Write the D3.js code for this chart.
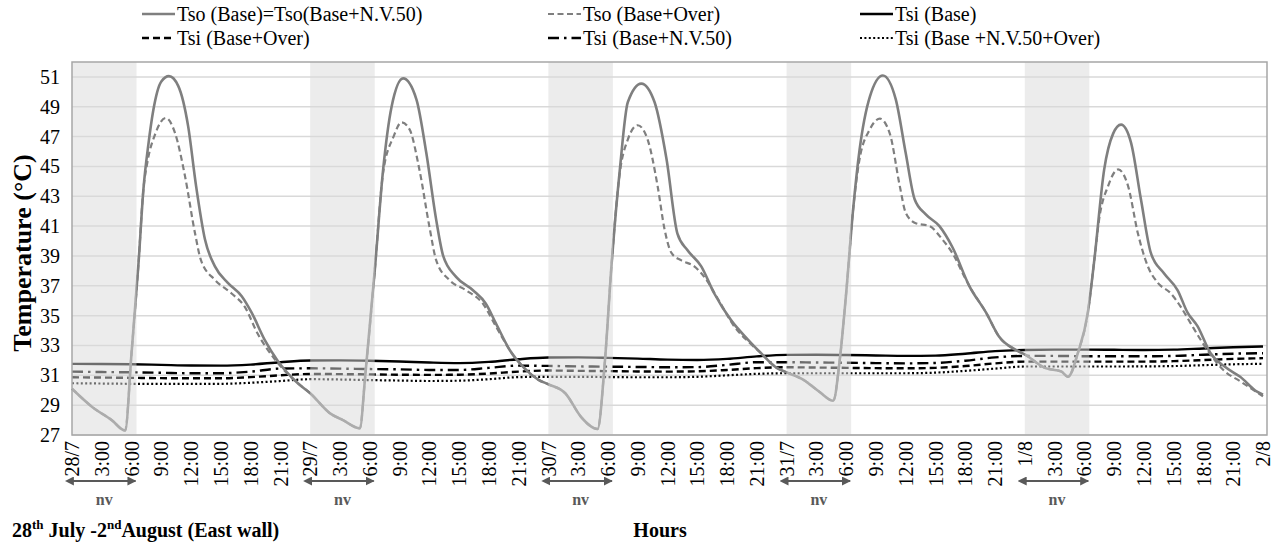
<!DOCTYPE html>
<html><head><meta charset="utf-8">
<script src="https://cdn.jsdelivr.net/npm/d3@7"></script>
<style>
html,body{margin:0;padding:0;background:#fff;}
</style></head>
<body><svg id="c" width="1276" height="543" font-family="Liberation Serif"></svg>
<script>
// ---------- data ----------
const xTickHours = [0,3,6,9,12,15,18,21,24,27,30,33,36,39,42,45,48,51,54,57,60,63,66,69,72,75,78,81,84,87,90,93,96,99,102,105,108,111,114,117,120];
const xTickLabels = ["28/7","3:00","6:00","9:00","12:00","15:00","18:00","21:00",
  "29/7","3:00","6:00","9:00","12:00","15:00","18:00","21:00",
  "30/7","3:00","6:00","9:00","12:00","15:00","18:00","21:00",
  "31/7","3:00","6:00","9:00","12:00","15:00","18:00","21:00",
  "1/8","3:00","6:00","9:00","12:00","15:00","18:00","21:00","2/8"];
const yTicks = [27,29,31,33,35,37,39,41,43,45,47,49,51];
const nvStarts = [0,24,48,72,96];
const nvLength = 6.5;

// Tso (Base) = Tso (Base+N.V.50): [hour, °C]
const tsoBase = [
 [0,30.1],[2.0,28.9],[4.0,28.0],[5.35,27.3],[6.0,32.5],[6.7,38.5],[7.2,43.5],[7.7,46.5],[8.2,48.8],[9.0,50.7],[9.77,51.05],[10.7,50.4],[11.7,47.7],[12.5,43.7],[13.4,40.1],[14.4,38.3],[15.7,37.2],[17.1,36.3],[18.1,35.2],[19.4,33.4],[20.7,32.0],[22.7,30.5],
 [24,29.8],[26.0,28.45],[27.3,28.0],[29.0,27.45],[29.55,31.0],[30.5,38.0],[31.35,44.8],[32.2,49.0],[33.36,50.9],[34.7,49.5],[35.7,45.9],[36.7,41.4],[37.4,39.0],[38.7,37.6],[40.4,36.7],[41.7,35.8],[42.7,34.5],[44.1,32.7],[45.7,31.4],[47.0,30.7],
 [48,30.4],[49.7,29.8],[51.3,28.2],[52.95,27.4],[53.7,32.0],[54.35,38.3],[55.2,44.8],[56.0,49.3],[57.36,50.55],[58.7,49.3],[59.9,45.5],[61.0,40.5],[62.0,39.4],[63.4,38.3],[64.7,36.5],[66.4,34.7],[68.1,33.4],[69.4,32.5],[71.0,31.5],
 [72,31.2],[73.7,30.7],[75.3,29.9],[76.7,29.3],[77.35,32.0],[78.0,36.5],[78.7,42.1],[79.35,46.1],[80.4,49.7],[81.7,51.1],[83.0,49.5],[84.0,45.9],[84.9,42.8],[86.0,41.8],[87.4,41.0],[88.7,39.6],[90.4,37.0],[92.1,35.2],[93.4,33.6],[95.1,32.7],
 [96,32.4],[98.0,31.5],[99.7,31.25],[100.35,30.9],[101.35,32.5],[102.35,35.2],[103.0,38.7],[104.0,44.8],[104.9,47.2],[105.7,47.8],[106.7,46.6],[107.7,42.8],[108.7,39.2],[110.0,37.85],[111.4,36.7],[112.4,35.2],[113.4,34.3],[114.7,32.5],[116.1,31.6],[117.7,30.9],[119.4,29.9],[120,29.7]
];
// Tso (Base+Over)
const tsoOver = [
 [0,30.1],[2.0,28.9],[4.0,28.0],[5.35,27.3],[6.0,32.5],[6.7,38.5],[7.2,43.5],[7.6,45.3],[8.4,47.2],[9.45,48.25],[10.4,47.2],[11.4,44.3],[12.4,40.5],[13.0,38.7],[14.4,37.4],[16.05,36.5],[17.4,35.6],[18.7,33.8],[20.4,32.1],[22.7,30.5],
 [24,29.8],[26.0,28.45],[27.3,28.0],[29.0,27.45],[29.55,31.0],[30.5,38.0],[31.35,44.6],[32.4,47.0],[33.2,47.96],[34.0,47.5],[35.0,44.8],[36.0,41.0],[36.7,38.7],[38.0,37.4],[39.7,36.7],[41.4,35.8],[42.7,34.3],[44.1,32.7],[45.7,31.4],[47.0,30.7],
 [48,30.4],[49.7,29.8],[51.3,28.2],[52.95,27.4],[53.7,32.0],[54.35,38.3],[55.2,44.6],[56.0,46.8],[57.0,47.76],[58.0,46.8],[59.0,43.7],[59.7,40.8],[60.4,39.2],[61.4,38.7],[62.7,38.3],[63.7,37.6],[65.1,36.1],[66.7,34.3],[68.4,33.1],[69.4,32.5],[71.0,31.5],
 [72,31.2],[73.7,30.7],[75.3,29.9],[76.7,29.3],[77.35,32.0],[78.0,36.5],[78.7,42.1],[79.3,45.3],[80.4,47.5],[81.4,48.2],[82.4,47.2],[83.4,43.7],[84.0,41.9],[85.0,41.2],[86.4,41.0],[87.7,40.1],[88.7,39.2],[90.0,37.5],[90.4,37.0],[92.1,35.2],[93.4,33.6],[95.1,32.7],
 [96,32.4],[98.0,31.5],[99.7,31.25],[100.35,30.9],[101.35,32.5],[102.35,35.2],[103.0,38.7],[103.5,41.5],[104.4,43.7],[105.4,44.8],[106.4,43.7],[107.4,40.5],[108.4,38.3],[109.4,37.2],[110.7,36.5],[111.7,35.6],[112.7,34.5],[113.7,33.4],[114.7,32.4],[116.1,31.3],[117.7,30.6],[120,29.6]
];
// Tsi series, every 3 hours (same hours as xTickHours)
const tsiBase = [31.77,31.76,31.74,31.70,31.66,31.65,31.72,31.88,
 31.99,32.00,31.98,31.93,31.86,31.82,31.90,32.08,
 32.19,32.20,32.17,32.12,32.05,32.03,32.10,32.27,
 32.37,32.38,32.36,32.33,32.30,32.32,32.45,32.62,
 32.70,32.72,32.72,32.71,32.70,32.72,32.80,32.88,32.93];
const tsiNV = [31.25,31.22,31.20,31.17,31.14,31.14,31.25,31.45,
 31.47,31.45,31.42,31.40,31.36,31.36,31.50,31.65,
 31.63,31.60,31.58,31.56,31.54,31.55,31.70,31.88,
 31.88,31.86,31.84,31.82,31.80,31.83,31.98,32.20,
 32.30,32.30,32.28,32.28,32.28,32.30,32.38,32.45,32.48];
const tsiOver = [30.87,30.85,30.83,30.81,30.80,30.80,30.88,31.00,
 31.09,31.08,31.06,31.04,31.03,31.04,31.12,31.25,
 31.32,31.30,31.28,31.26,31.25,31.27,31.36,31.48,
 31.54,31.52,31.50,31.48,31.47,31.50,31.62,31.80,
 31.92,31.92,31.92,31.92,31.92,31.95,32.02,32.10,32.15];
const tsiNVOver = [30.47,30.45,30.43,30.42,30.42,30.43,30.50,30.62,
 30.74,30.72,30.68,30.65,30.62,30.64,30.74,30.88,
 30.90,30.90,30.88,30.87,30.87,30.90,31.00,31.10,
 31.14,31.14,31.14,31.14,31.14,31.18,31.30,31.45,
 31.59,31.59,31.59,31.59,31.60,31.62,31.68,31.74,31.77];

const legendNames = ["Tso (Base)=Tso(Base+N.V.50)","Tso (Base+Over)","Tsi (Base)",
                     "Tsi (Base+Over)","Tsi (Base+N.V.50)","Tsi (Base +N.V.50+Over)"];

// ---------- drawing ----------
const FONT = "Liberation Serif";
const svg = d3.select("#c");
const L = 72, R = 1267, T = 62, B = 435;
const x = d3.scaleLinear().domain([0,120]).range([L,1263]);
const y = d3.scaleLinear().domain([27,52]).range([B,T]);

svg.append("g").selectAll("line").data(yTicks).join("line")
  .attr("x1",L).attr("x2",R).attr("y1",d=>y(d)).attr("y2",d=>y(d))
  .attr("stroke","#d9d9d9").attr("stroke-width",1.5);

const styles = [
  {data: tsoBase, color:"#7f7f7f", w:2.6, dash:null, pair:true},
  {data: tsoOver, color:"#7f7f7f", w:2.2, dash:"6,3.5", pair:true},
  {data: tsiBase, color:"#000", w:2.4, dash:null},
  {data: tsiOver, color:"#000", w:2.4, dash:"7,4"},
  {data: tsiNV, color:"#000", w:2.4, dash:"11,5,2.5,5"},
  {data: tsiNVOver, color:"#000", w:2.2, dash:"2,2.4"}
];
const linePair = d3.line().x(d=>x(d[0])).y(d=>y(d[1])).curve(d3.curveMonotoneX);
const lineTsi = d3.line().x((d,i)=>x(xTickHours[i])).y(d=>y(d)).curve(d3.curveMonotoneX);

const order = [5,3,4,2,1,0];
order.forEach(k=>{
  const s = styles[k];
  svg.append("path").attr("d", s.pair ? linePair(s.data) : lineTsi(s.data))
    .attr("fill","none").attr("stroke",s.color).attr("stroke-width",s.w)
    .attr("stroke-dasharray",s.dash).attr("stroke-linejoin","round");
});

svg.append("g").selectAll("rect").data(nvStarts).join("rect")
  .attr("x",d=>x(d)).attr("width",d=>x(d+nvLength)-x(d))
  .attr("y",T).attr("height",B-T)
  .attr("fill","#d9d9d9").attr("opacity",0.5);

svg.append("rect").attr("x",L).attr("y",T).attr("width",R-L).attr("height",B-T)
  .attr("fill","none").attr("stroke","#a6a6a6").attr("stroke-width",1.5);

const yAx = svg.append("g").attr("transform",`translate(${L},0)`)
  .call(d3.axisLeft(y).tickValues(yTicks).tickSize(0).tickPadding(12).tickFormat(d3.format("d")));
yAx.select(".domain").remove();
yAx.selectAll("text").attr("font-size",20).attr("fill","#000");

const xAx = svg.append("g").attr("transform",`translate(0,${B})`)
  .call(d3.axisBottom(x).tickValues(xTickHours).tickSize(0).tickFormat((d,i)=>xTickLabels[i]));
xAx.select(".domain").remove();
xAx.selectAll("text")
  .attr("font-size",20).attr("fill","#000")
  .attr("text-anchor","end")
  .attr("transform","rotate(-90)")
  .attr("x",-6).attr("y",0).attr("dy","0.33em");

svg.append("text").attr("transform",`translate(31,253) rotate(-90)`)
  .attr("text-anchor","middle").attr("font-size",26).attr("font-weight","bold")
  .text("Temperature (°C)");

const defs = svg.append("defs");
["s","e"].forEach(k=>{
  defs.append("marker").attr("id","ar"+k).attr("viewBox","0 0 10 10")
    .attr("refX",k==="e"?9:1).attr("refY",5).attr("markerWidth",4.5).attr("markerHeight",4.5)
    .attr("orient","auto-start-reverse").attr("markerUnits","strokeWidth")
    .append("path").attr("d","M0,0 L10,5 L0,10 z").attr("fill","#595959");
});
const nvG = svg.append("g");
nvStarts.forEach(d=>{
  nvG.append("line").attr("x1",x(d)+1).attr("x2",x(d+nvLength)-1)
    .attr("y1",481).attr("y2",481).attr("stroke","#595959").attr("stroke-width",2)
    .attr("marker-start","url(#ars)").attr("marker-end","url(#are)");
  nvG.append("text").attr("x",(x(d)+x(d+nvLength))/2).attr("y",505)
    .attr("text-anchor","middle").attr("font-size",16).attr("font-weight","bold")
    .attr("fill","#595959").text("nv");
});

const sub = svg.append("text").attr("x",12).attr("y",537).attr("font-size",20).attr("font-weight","bold");
sub.append("tspan").text("28");
sub.append("tspan").attr("font-size",13).attr("dy",-8).text("th");
sub.append("tspan").attr("dy",8).text(" July -2");
sub.append("tspan").attr("font-size",13).attr("dy",-8).text("nd");
sub.append("tspan").attr("dy",8).text("August (East wall)");
svg.append("text").attr("x",660).attr("y",537).attr("text-anchor","middle")
  .attr("font-size",20).attr("font-weight","bold").text("Hours");

const legPos = [[142,14],[548,14],[860,14],[142,38],[548,38],[860,38]];
const lg = svg.append("g");
styles.forEach((s,i)=>{
  const [lx,ly] = legPos[i];
  lg.append("line").attr("x1",lx).attr("x2",lx+33).attr("y1",ly).attr("y2",ly)
    .attr("stroke",s.color).attr("stroke-width",s.w).attr("stroke-dasharray",s.dash);
  lg.append("text").attr("x",lx+35).attr("y",ly).attr("dy","0.35em")
    .attr("font-size",20).text(legendNames[i]);
});

svg.selectAll("g").attr("font-family",null);
svg.selectAll("text").attr("font-family",FONT);
</script></body></html>
